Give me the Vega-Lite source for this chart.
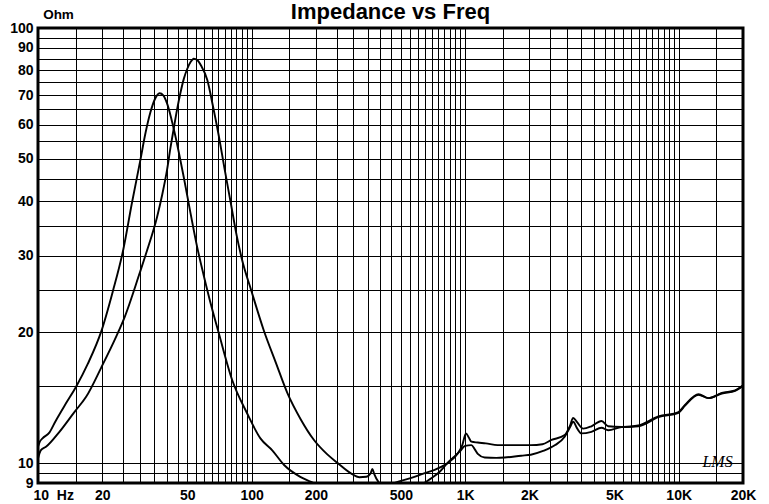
{
  "$schema": "https://vega.github.io/schema/vega-lite/v6.json",
  "width": 705,
  "height": 455,
  "autosize": "none",
  "padding": {"left": 38, "top": 28, "right": 26, "bottom": 21},
  "background": "white",
  "config": {
    "view": {"stroke": "black", "strokeWidth": 3},
    "font": "Liberation Sans"
  },
  "title": {
    "text": "Impedance vs Freq",
    "fontSize": 22,
    "fontWeight": "bold",
    "font": "Liberation Sans",
    "color": "black",
    "anchor": "middle",
    "baseline": "alphabetic",
    "offset": 0,
    "dy": 34
  },
  "datasets": {
    "curves": [
      {"curve": "a", "f": 10, "z": 10.9},
      {"curve": "a", "f": 10.2, "z": 11.2},
      {"curve": "a", "f": 10.5, "z": 11.4},
      {"curve": "a", "f": 11.3, "z": 11.75},
      {"curve": "a", "f": 12.1, "z": 12.5},
      {"curve": "a", "f": 13.5, "z": 13.7},
      {"curve": "a", "f": 15.1, "z": 15.0},
      {"curve": "a", "f": 17.1, "z": 16.9},
      {"curve": "a", "f": 19.8, "z": 20.1},
      {"curve": "a", "f": 22.4, "z": 24.8},
      {"curve": "a", "f": 25.1, "z": 31.0},
      {"curve": "a", "f": 27.5, "z": 39.5},
      {"curve": "a", "f": 30.1, "z": 49.5},
      {"curve": "a", "f": 31.9, "z": 57.5},
      {"curve": "a", "f": 33.6, "z": 64.0},
      {"curve": "a", "f": 35.2, "z": 68.5},
      {"curve": "a", "f": 37.1, "z": 70.8},
      {"curve": "a", "f": 38.6, "z": 70.0},
      {"curve": "a", "f": 40.2, "z": 67.1},
      {"curve": "a", "f": 43.2, "z": 58.7},
      {"curve": "a", "f": 48.1, "z": 45.5},
      {"curve": "a", "f": 51.8, "z": 37.5},
      {"curve": "a", "f": 55.6, "z": 31.4},
      {"curve": "a", "f": 59.7, "z": 27.0},
      {"curve": "a", "f": 64.9, "z": 22.9},
      {"curve": "a", "f": 70.2, "z": 19.9},
      {"curve": "a", "f": 81.2, "z": 15.5},
      {"curve": "a", "f": 95.4, "z": 13.0},
      {"curve": "a", "f": 110, "z": 11.4},
      {"curve": "a", "f": 125, "z": 10.7},
      {"curve": "a", "f": 142, "z": 9.9},
      {"curve": "a", "f": 169, "z": 9.3},
      {"curve": "a", "f": 190, "z": 9.05},
      {"curve": "a", "f": 220, "z": 8.75},
      {"curve": "a", "f": 280, "z": 8.5},
      {"curve": "a", "f": 350, "z": 8.5},
      {"curve": "a", "f": 420, "z": 8.8},
      {"curve": "a", "f": 483, "z": 9.05},
      {"curve": "a", "f": 560, "z": 9.25},
      {"curve": "a", "f": 642, "z": 9.47},
      {"curve": "a", "f": 720, "z": 9.65},
      {"curve": "a", "f": 800, "z": 9.89},
      {"curve": "a", "f": 850, "z": 10.1},
      {"curve": "a", "f": 920, "z": 10.5},
      {"curve": "a", "f": 970, "z": 11.0},
      {"curve": "a", "f": 1009, "z": 11.7},
      {"curve": "a", "f": 1040, "z": 11.45},
      {"curve": "a", "f": 1070, "z": 11.2},
      {"curve": "a", "f": 1146, "z": 11.15},
      {"curve": "a", "f": 1250, "z": 11.1},
      {"curve": "a", "f": 1420, "z": 11.0},
      {"curve": "a", "f": 1700, "z": 11.0},
      {"curve": "a", "f": 2030, "z": 11.0},
      {"curve": "a", "f": 2300, "z": 11.05},
      {"curve": "a", "f": 2535, "z": 11.3},
      {"curve": "a", "f": 2925, "z": 11.6},
      {"curve": "a", "f": 3100, "z": 12.2},
      {"curve": "a", "f": 3204, "z": 12.7},
      {"curve": "a", "f": 3350, "z": 12.4},
      {"curve": "a", "f": 3569, "z": 12.0},
      {"curve": "a", "f": 3900, "z": 12.15},
      {"curve": "a", "f": 4350, "z": 12.5},
      {"curve": "a", "f": 4677, "z": 12.15},
      {"curve": "a", "f": 5400, "z": 12.1},
      {"curve": "a", "f": 6470, "z": 12.2},
      {"curve": "a", "f": 8030, "z": 12.8},
      {"curve": "a", "f": 9970, "z": 13.1},
      {"curve": "a", "f": 10700, "z": 13.6},
      {"curve": "a", "f": 12380, "z": 14.4},
      {"curve": "a", "f": 13780, "z": 14.1},
      {"curve": "a", "f": 15920, "z": 14.5},
      {"curve": "a", "f": 18370, "z": 14.7},
      {"curve": "a", "f": 20000, "z": 15.1},
      {"curve": "b", "f": 10, "z": 10.25},
      {"curve": "b", "f": 10.3, "z": 10.7},
      {"curve": "b", "f": 10.9, "z": 10.9},
      {"curve": "b", "f": 12.6, "z": 11.8},
      {"curve": "b", "f": 14.8, "z": 13.1},
      {"curve": "b", "f": 16.8, "z": 14.2},
      {"curve": "b", "f": 19.8, "z": 16.6},
      {"curve": "b", "f": 23.2, "z": 19.5},
      {"curve": "b", "f": 25.4, "z": 21.6},
      {"curve": "b", "f": 29.9, "z": 27.3},
      {"curve": "b", "f": 32.4, "z": 30.8},
      {"curve": "b", "f": 36.1, "z": 36.8},
      {"curve": "b", "f": 38.2, "z": 41.5},
      {"curve": "b", "f": 40.2, "z": 47.2},
      {"curve": "b", "f": 41.7, "z": 53.0},
      {"curve": "b", "f": 43.2, "z": 58.7},
      {"curve": "b", "f": 44.8, "z": 65.0},
      {"curve": "b", "f": 46.4, "z": 70.8},
      {"curve": "b", "f": 48.2, "z": 76.5},
      {"curve": "b", "f": 50.0, "z": 80.6},
      {"curve": "b", "f": 51.8, "z": 83.5},
      {"curve": "b", "f": 53.6, "z": 85.0},
      {"curve": "b", "f": 55.8, "z": 84.3},
      {"curve": "b", "f": 58, "z": 82.0},
      {"curve": "b", "f": 62, "z": 76.0},
      {"curve": "b", "f": 66, "z": 66.0},
      {"curve": "b", "f": 70, "z": 57.0},
      {"curve": "b", "f": 75, "z": 47.0},
      {"curve": "b", "f": 80, "z": 39.5},
      {"curve": "b", "f": 85, "z": 33.5},
      {"curve": "b", "f": 90, "z": 29.5},
      {"curve": "b", "f": 100, "z": 24.8},
      {"curve": "b", "f": 114, "z": 20.2},
      {"curve": "b", "f": 130, "z": 17.0},
      {"curve": "b", "f": 147, "z": 14.5},
      {"curve": "b", "f": 170, "z": 12.6},
      {"curve": "b", "f": 196, "z": 11.3},
      {"curve": "b", "f": 225, "z": 10.5},
      {"curve": "b", "f": 253, "z": 10.0},
      {"curve": "b", "f": 292, "z": 9.47},
      {"curve": "b", "f": 320, "z": 9.28},
      {"curve": "b", "f": 345, "z": 9.3},
      {"curve": "b", "f": 360, "z": 9.45},
      {"curve": "b", "f": 368, "z": 9.7},
      {"curve": "b", "f": 375, "z": 9.45},
      {"curve": "b", "f": 396, "z": 9.0},
      {"curve": "b", "f": 440, "z": 8.7},
      {"curve": "b", "f": 520, "z": 8.6},
      {"curve": "b", "f": 600, "z": 8.8},
      {"curve": "b", "f": 642, "z": 9.0},
      {"curve": "b", "f": 700, "z": 9.25},
      {"curve": "b", "f": 760, "z": 9.55},
      {"curve": "b", "f": 826, "z": 10.0},
      {"curve": "b", "f": 880, "z": 10.3},
      {"curve": "b", "f": 945, "z": 10.64},
      {"curve": "b", "f": 1000, "z": 10.95},
      {"curve": "b", "f": 1070, "z": 11.0},
      {"curve": "b", "f": 1110, "z": 10.75},
      {"curve": "b", "f": 1146, "z": 10.5},
      {"curve": "b", "f": 1235, "z": 10.3},
      {"curve": "b", "f": 1400, "z": 10.28},
      {"curve": "b", "f": 1530, "z": 10.3},
      {"curve": "b", "f": 1830, "z": 10.4},
      {"curve": "b", "f": 2030, "z": 10.45},
      {"curve": "b", "f": 2300, "z": 10.65},
      {"curve": "b", "f": 2640, "z": 11.0},
      {"curve": "b", "f": 2925, "z": 11.5},
      {"curve": "b", "f": 3100, "z": 12.1},
      {"curve": "b", "f": 3204, "z": 12.45},
      {"curve": "b", "f": 3350, "z": 12.0},
      {"curve": "b", "f": 3500, "z": 11.7},
      {"curve": "b", "f": 3900, "z": 11.8},
      {"curve": "b", "f": 4350, "z": 12.06},
      {"curve": "b", "f": 4677, "z": 11.9},
      {"curve": "b", "f": 5400, "z": 12.1},
      {"curve": "b", "f": 6470, "z": 12.15},
      {"curve": "b", "f": 8030, "z": 12.75},
      {"curve": "b", "f": 9970, "z": 13.05},
      {"curve": "b", "f": 10700, "z": 13.55},
      {"curve": "b", "f": 12380, "z": 14.35},
      {"curve": "b", "f": 13780, "z": 14.1},
      {"curve": "b", "f": 15920, "z": 14.45},
      {"curve": "b", "f": 18370, "z": 14.65},
      {"curve": "b", "f": 20000, "z": 15.05}
    ],
    "logo": [{"f": 15200, "z": 10.05, "t": "LMS"}]
  },
  "encoding": {
    "x": {
      "field": "f",
      "type": "quantitative",
      "scale": {"type": "log", "domain": [10, 20000], "nice": false, "zero": false},
      "axis": {
        "values": [10,15,20,25,30,35,40,45,50,55,60,65,70,75,80,85,90,95,100,150,200,250,300,350,400,450,500,550,600,650,700,750,800,850,900,950,1000,1500,2000,2500,3000,3500,4000,4500,5000,5500,6000,6500,7000,7500,8000,8500,9000,9500,10000,15000,20000],
        "title": null,
        "domain": false,
        "ticks": false,
        "grid": true,
        "gridColor": "black",
        "gridWidth": 1,
        "gridOpacity": 1,
        "labelExpr": "datum.value == 10 ? '10\u00a0\u00a0Hz' : datum.value == 20 ? '20' : datum.value == 50 ? '50' : datum.value == 100 ? '100' : datum.value == 200 ? '200' : datum.value == 500 ? '500' : datum.value == 1000 ? '1K' : datum.value == 2000 ? '2K' : datum.value == 5000 ? '5K' : datum.value == 10000 ? '10K' : datum.value == 20000 ? '20K' : ''",
        "labelFont": "Liberation Sans",
        "labelFontSize": 14,
        "labelFontWeight": "bold",
        "labelColor": "black",
        "labelPadding": 5,
        "labelOverlap": false,
        "labelFlush": false,
        "labelBound": false,
        "labelAlign": {"condition": {"test": "datum.value == 10", "value": "left"}, "value": "center"},
        "labelOffset": {"condition": {"test": "datum.value == 10", "value": -5}, "value": 0}
      }
    },
    "y": {
      "field": "z",
      "type": "quantitative",
      "scale": {"type": "log", "domain": [9, 100], "nice": false, "zero": false},
      "axis": {
        "values": [9,9.5,10,15,20,25,30,35,40,45,50,55,60,65,70,75,80,85,90,95,100],
        "title": "Ohm",
        "titleAngle": 0,
        "titleX": 20,
        "titleY": -14,
        "titleAlign": "center",
        "titleBaseline": "middle",
        "titleFont": "Liberation Sans",
        "titleFontSize": 13.5,
        "titleFontWeight": "bold",
        "titleColor": "black",
        "domain": false,
        "ticks": false,
        "grid": true,
        "gridColor": "black",
        "gridWidth": 1,
        "gridOpacity": 1,
        "labelExpr": "datum.value == 9 ? '9' : datum.value % 10 == 0 ? datum.label : ''",
        "labelFont": "Liberation Sans",
        "labelFontSize": 14,
        "labelFontWeight": "bold",
        "labelColor": "black",
        "labelPadding": 5,
        "labelOverlap": false,
        "labelFlush": false,
        "labelBound": false
      }
    }
  },
  "layer": [
    {
      "data": {"name": "curves"},
      "mark": {"type": "line", "clip": true, "color": "black", "strokeWidth": 1.9, "interpolate": "monotone"},
      "encoding": {"detail": {"field": "curve", "type": "nominal"}}
    },
    {
      "data": {"name": "logo"},
      "mark": {"type": "text", "font": "Liberation Serif", "fontStyle": "italic", "fontSize": 16, "color": "black", "align": "center", "baseline": "middle"},
      "encoding": {"text": {"field": "t", "type": "nominal"}}
    }
  ]
}
